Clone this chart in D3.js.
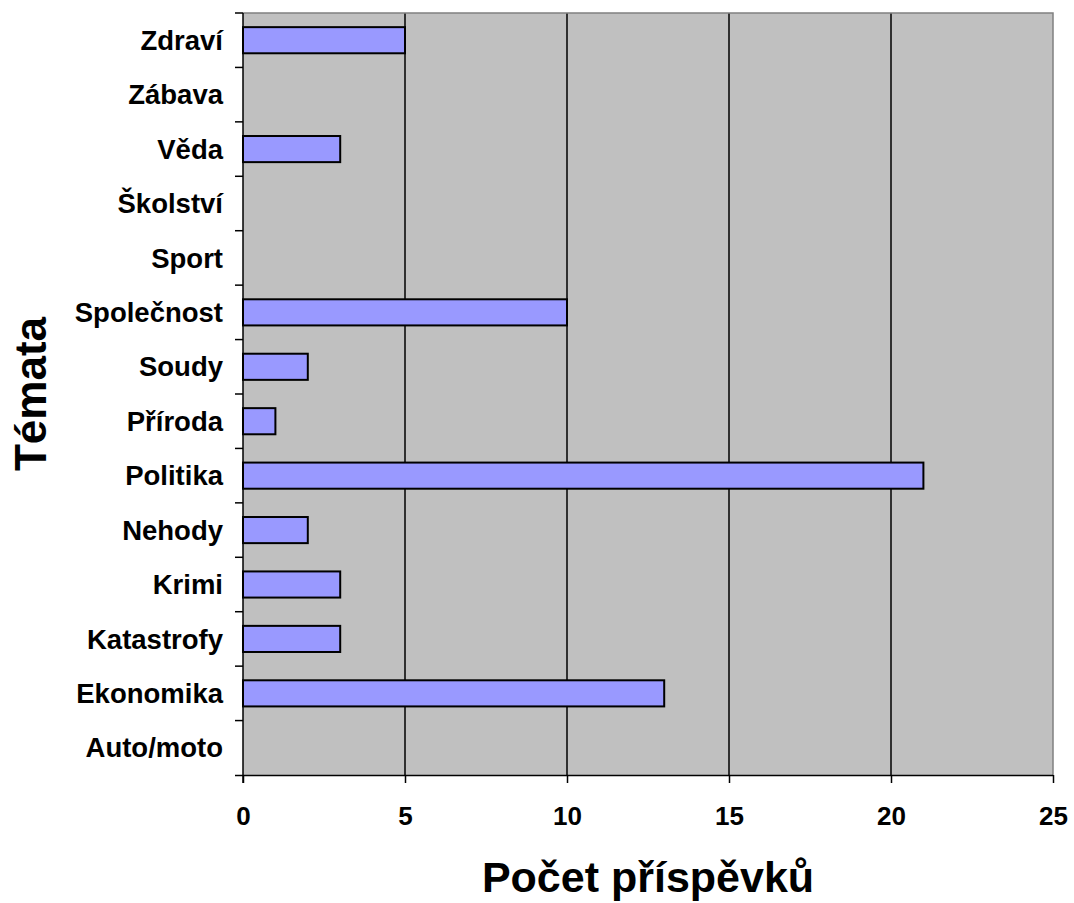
<!DOCTYPE html>
<html>
<head>
<meta charset="utf-8">
<script src="https://cdn.jsdelivr.net/npm/d3@7"></script>
<style>
  body { margin: 0; background: white; }
  text { font-family: "Liberation Sans", Arial, sans-serif; font-weight: bold; fill: black; }
</style>
</head>
<body>
<div class="chart"></div>
<script>
const width = 1074;
const height = 903;

// categories listed top to bottom
const topics = ['Zdraví', 'Zábava', 'Věda', 'Školství', 'Sport', 'Společnost', 'Soudy',
  'Příroda', 'Politika', 'Nehody', 'Krimi', 'Katastrofy', 'Ekonomika', 'Auto/moto'];
const counts = [5, 0, 3, 0, 0, 10, 2, 1, 21, 2, 3, 3, 13, 0];
const xTicks = [0, 5, 10, 15, 20, 25];

const plot = { left: 243, right: 1053, top: 13, bottom: 775 };

const svg = d3.select('div.chart').append('svg')
  .attr('width', width)
  .attr('height', height);

const scaleX = d3.scaleLinear()
  .domain([0, 25])
  .range([plot.left, plot.right]);

const scaleY = d3.scaleBand()
  .domain(topics)
  .range([plot.top, plot.bottom])
  .paddingInner(0.52)
  .paddingOuter(0.26);

// plot background
svg.append('rect')
  .attr('x', plot.left)
  .attr('y', plot.top)
  .attr('width', plot.right - plot.left)
  .attr('height', plot.bottom - plot.top)
  .attr('fill', '#C0C0C0');

// vertical grid lines
svg.append('g')
  .selectAll('line')
  .data(xTicks.filter(t => t > 0 && t < 25))
  .enter()
  .append('line')
  .attr('x1', d => scaleX(d))
  .attr('x2', d => scaleX(d))
  .attr('y1', plot.top)
  .attr('y2', plot.bottom)
  .attr('stroke', 'black')
  .attr('stroke-width', 1.5);

// grey border top/right
svg.append('path')
  .attr('d', `M${plot.left},${plot.top}H${plot.right}V${plot.bottom}`)
  .attr('fill', 'none')
  .attr('stroke', '#808080')
  .attr('stroke-width', 1.5);

// bars
svg.append('g')
  .selectAll('rect')
  .data(topics.map((t, i) => ({ topic: t, value: counts[i] })).filter(d => d.value > 0))
  .enter()
  .append('rect')
  .attr('x', scaleX(0))
  .attr('y', d => scaleY(d.topic))
  .attr('width', d => scaleX(d.value) - scaleX(0))
  .attr('height', scaleY.bandwidth())
  .attr('fill', '#9999FF')
  .attr('stroke', 'black')
  .attr('stroke-width', 2);

// x axis
const xAxis = d3.axisBottom(scaleX)
  .tickValues(xTicks)
  .tickSize(8)
  .tickSizeOuter(0);

const gx = svg.append('g')
  .attr('transform', `translate(0, ${plot.bottom})`)
  .call(xAxis);
gx.select('.domain').attr('stroke', 'black').attr('stroke-width', 1.5)
  .attr('d', `M${plot.left - 8},0.5H${plot.right}`);
gx.selectAll('.tick line').attr('stroke-width', 1.5);
gx.selectAll('.tick text')
  .attr('y', 50)
  .attr('dy', null)
  .attr('font-size', 26)
  .attr('font-family', '"Liberation Sans", Arial, sans-serif')
  .attr('font-weight', 'bold')
  .attr('fill', 'black');

// y axis: ticks on band boundaries, labels at band centers
const boundaries = d3.range(topics.length + 1).map(i => plot.top + i * (plot.bottom - plot.top) / topics.length);
const gy = svg.append('g');
gy.append('line')
  .attr('x1', plot.left)
  .attr('x2', plot.left)
  .attr('y1', plot.top)
  .attr('y2', plot.bottom + 8)
  .attr('stroke', 'black')
  .attr('stroke-width', 1.5);
gy.selectAll('line.tick')
  .data(boundaries.slice(0, -1))
  .enter()
  .append('line')
  .attr('class', 'tick')
  .attr('x1', plot.left - 8)
  .attr('x2', plot.left)
  .attr('y1', d => d)
  .attr('y2', d => d)
  .attr('stroke', 'black')
  .attr('stroke-width', 1.5);
gy.selectAll('text')
  .data(topics)
  .enter()
  .append('text')
  .attr('x', plot.left - 20)
  .attr('y', d => scaleY(d) + scaleY.bandwidth() / 2)
  .attr('dy', '0.35em')
  .attr('text-anchor', 'end')
  .attr('font-size', 27.5)
  .text(d => d);

// axis titles
svg.append('text')
  .attr('x', (plot.left + plot.right) / 2)
  .attr('y', 892)
  .attr('text-anchor', 'middle')
  .attr('font-size', 43)
  .text('Počet příspěvků');

svg.append('text')
  .attr('transform', `translate(46, ${(plot.top + plot.bottom) / 2}) rotate(-90)`)
  .attr('text-anchor', 'middle')
  .attr('font-size', 44)
  .text('Témata');
</script>
</body>
</html>
